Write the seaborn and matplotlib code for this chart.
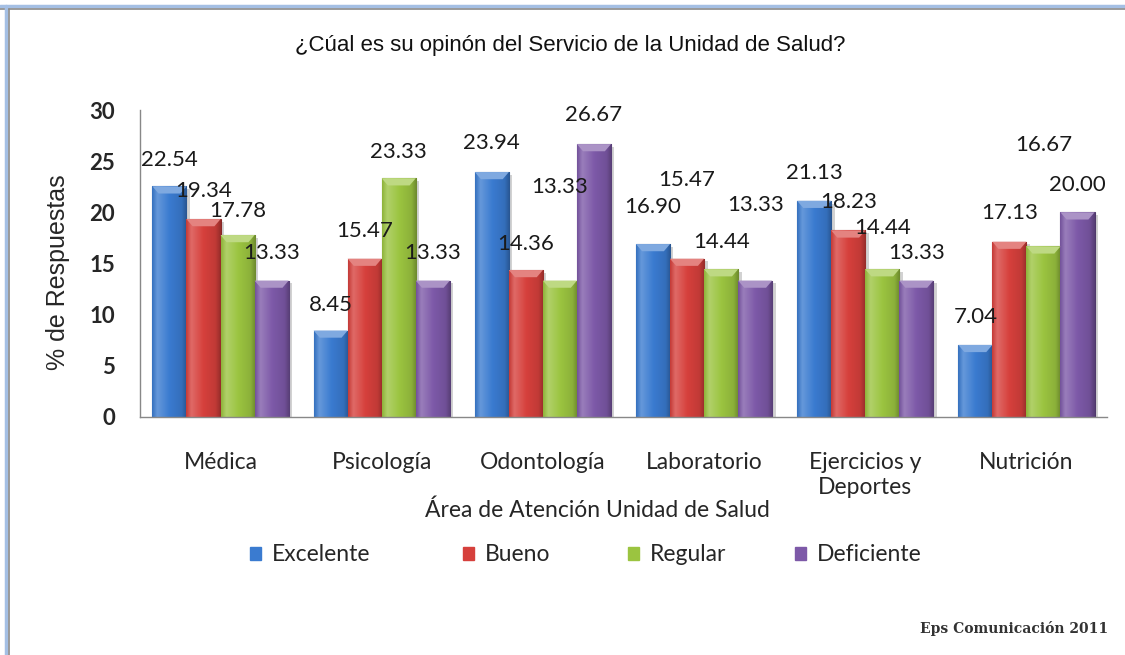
import numpy as np
import pandas as pd
import seaborn as sns
import matplotlib
matplotlib.use("Agg")
import matplotlib.pyplot as plt
import matplotlib.colors as mcolors
from matplotlib.patches import Patch, Polygon
from matplotlib.lines import Line2D
from matplotlib import patheffects as pe

# ---------------------------
# Data
# ---------------------------
areas = ["Médica", "Psicología", "Odontología", "Laboratorio",
         "Ejercicios y\nDeportes", "Nutrición"]
series = ["Excelente", "Bueno", "Regular", "Deficiente"]

excelente = [22.54, 8.45, 23.94, 16.90, 21.13, 7.04]
bueno = [19.34, 15.47, 14.36, 15.47, 18.23, 17.13]
regular = [17.78, 23.33, 13.33, 14.44, 14.44, 16.67]
deficiente = [13.33, 13.33, 26.67, 13.33, 13.33, 20.00]

# how far above each bar top the value label sits (some were moved by hand)
label_lift = {
    "Excelente": [2.6, 2.5, 2.8, 3.6, 2.7, 2.7],
    "Bueno": [2.7, 2.7, 2.5, 7.7, 2.8, 2.8],
    "Regular": [2.4, 2.6, 9.1, 2.7, 4.0, 9.9],
    "Deficiente": [2.7, 2.7, 2.8, 7.4, 2.7, 2.7],
}

colors = ["#3a7bd0", "#d6403c", "#9bc440", "#7d59a8"]

df = pd.DataFrame({
    "area": areas * 4,
    "serie": np.repeat(series, len(areas)),
    "valor": excelente + bueno + regular + deficiente,
})

# ---------------------------
# Figure
# ---------------------------
sns.set_style("white")
fig = plt.figure(figsize=(11.25, 6.55), dpi=100)
ax = fig.add_axes([0.1244, 0.3634, 0.8596, 0.4686])

sns.barplot(data=df, x="area", y="valor", hue="serie", hue_order=series,
            palette=colors, width=0.845, saturation=1, legend=False, ax=ax)


def shade_bar(bar, color):
    x, y = bar.get_x(), bar.get_y()
    w, h = bar.get_width(), bar.get_height()
    base = np.array(mcolors.to_rgb(color))
    light = base + (1 - base) * 0.22
    dark = base * 0.7
    stops = np.array([0.0, 0.15, 0.5, 0.85, 1.0])
    cols = np.array([base * 0.92, light, base, base * 0.9, dark])
    t = np.linspace(0, 1, 64)
    grad = np.stack([np.interp(t, stops, cols[:, k]) for k in range(3)], axis=-1)[None]
    im = ax.imshow(grad, extent=(x, x + w, y, y + h), aspect="auto",
                   interpolation="bilinear", zorder=2.1)
    im.set_clip_path(bar)
    # top bevel
    inset = w * 0.18
    bh = 0.7
    top = Polygon([(x, h), (x + w, h), (x + w - inset, h - bh), (x + inset, h - bh)],
                  closed=True, facecolor=base + (1 - base) * 0.35,
                  edgecolor="none", zorder=2.2)
    ax.add_patch(top)
    bar.set_edgecolor(dark * 0.9)
    bar.set_linewidth(0.8)
    bar.set_zorder(2)
    bar.set_path_effects([pe.SimplePatchShadow(offset=(2.5, -2), shadow_rgbFace="gray", alpha=0.35),
                          pe.Normal()])


for serie, color, cont in zip(series, colors, ax.containers):
    for i, bar in enumerate(cont):
        shade_bar(bar, color)
        ax.text(bar.get_x() + bar.get_width() / 2,
                bar.get_height() + label_lift[serie][i],
                f"{bar.get_height():.2f}", ha="center", va="center",
                fontsize=16, family="Lato", color="#1a1a1a", zorder=5)

ax.set_xlim(-0.5, len(areas) - 0.5)
ax.set_ylim(0, 30)
ax.set_yticks(range(0, 31, 5))
ax.tick_params(axis="y", length=0, pad=18, labelsize=16)
ax.tick_params(axis="x", length=0, pad=25, labelsize=16.5)
for lab in ax.get_yticklabels():
    lab.set_fontweight("bold")
    lab.set_family("Lato")
for lab in ax.get_xticklabels():
    lab.set_family("Lato")
    lab.set_va("top")
    lab.set_linespacing(1.25)

for side in ["top", "right"]:
    ax.spines[side].set_visible(False)
for side in ["left", "bottom"]:
    ax.spines[side].set_color("#888888")
    ax.spines[side].set_linewidth(1.0)

ax.set_xlabel("Área de Atención Unidad de Salud", fontsize=16.5, family="Lato")
ax.xaxis.set_label_coords(0.4726, -0.303)
ax.xaxis.label.set_va("center")
ax.set_ylabel("% de Respuestas", fontsize=18, family="Liberation Sans")
ax.yaxis.set_label_coords(-0.085, 0.472)
ax.yaxis.label.set_va("center")

fig.text(0.507, 0.931, "¿Cúal es su opinón del Servicio de la Unidad de Salud?",
         ha="center", va="center", fontsize=16, family="Liberation Sans", color="#111111")

# legend entries placed like the original
legend_x = [250, 463, 628, 795]
for name, c, px in zip(series, colors, legend_x):
    leg = fig.legend([Patch(facecolor=c, edgecolor=mcolors.to_rgb(c))], [name],
                     loc="center left", bbox_to_anchor=(px / 1125, 0.153),
                     frameon=False, prop={"family": "Lato", "size": 16.5},
                     handlelength=0.5, handleheight=0.5, handletextpad=0.45,
                     borderpad=0, borderaxespad=0)

fig.text(0.985, 0.041, "Eps Comunicación 2011", ha="right", va="center",
         fontsize=10, family="DejaVu Serif", fontweight="bold", color="#333333")

# window frame
fig.add_artist(Line2D([0, 1], [0.991, 0.991], transform=fig.transFigure, color="#a4bfe4", lw=2.5))
fig.add_artist(Line2D([0, 1], [0.987, 0.987], transform=fig.transFigure, color="#8a8a8a", lw=1.2))
fig.add_artist(Line2D([0.005, 0.005], [0, 0.991], transform=fig.transFigure, color="#a4bfe4", lw=2.5))
fig.add_artist(Line2D([0.008, 0.008], [0, 0.987], transform=fig.transFigure, color="#8a8a8a", lw=1.2))

fig.savefig("out.png", dpi=100, facecolor="white")
plt.close(fig)
